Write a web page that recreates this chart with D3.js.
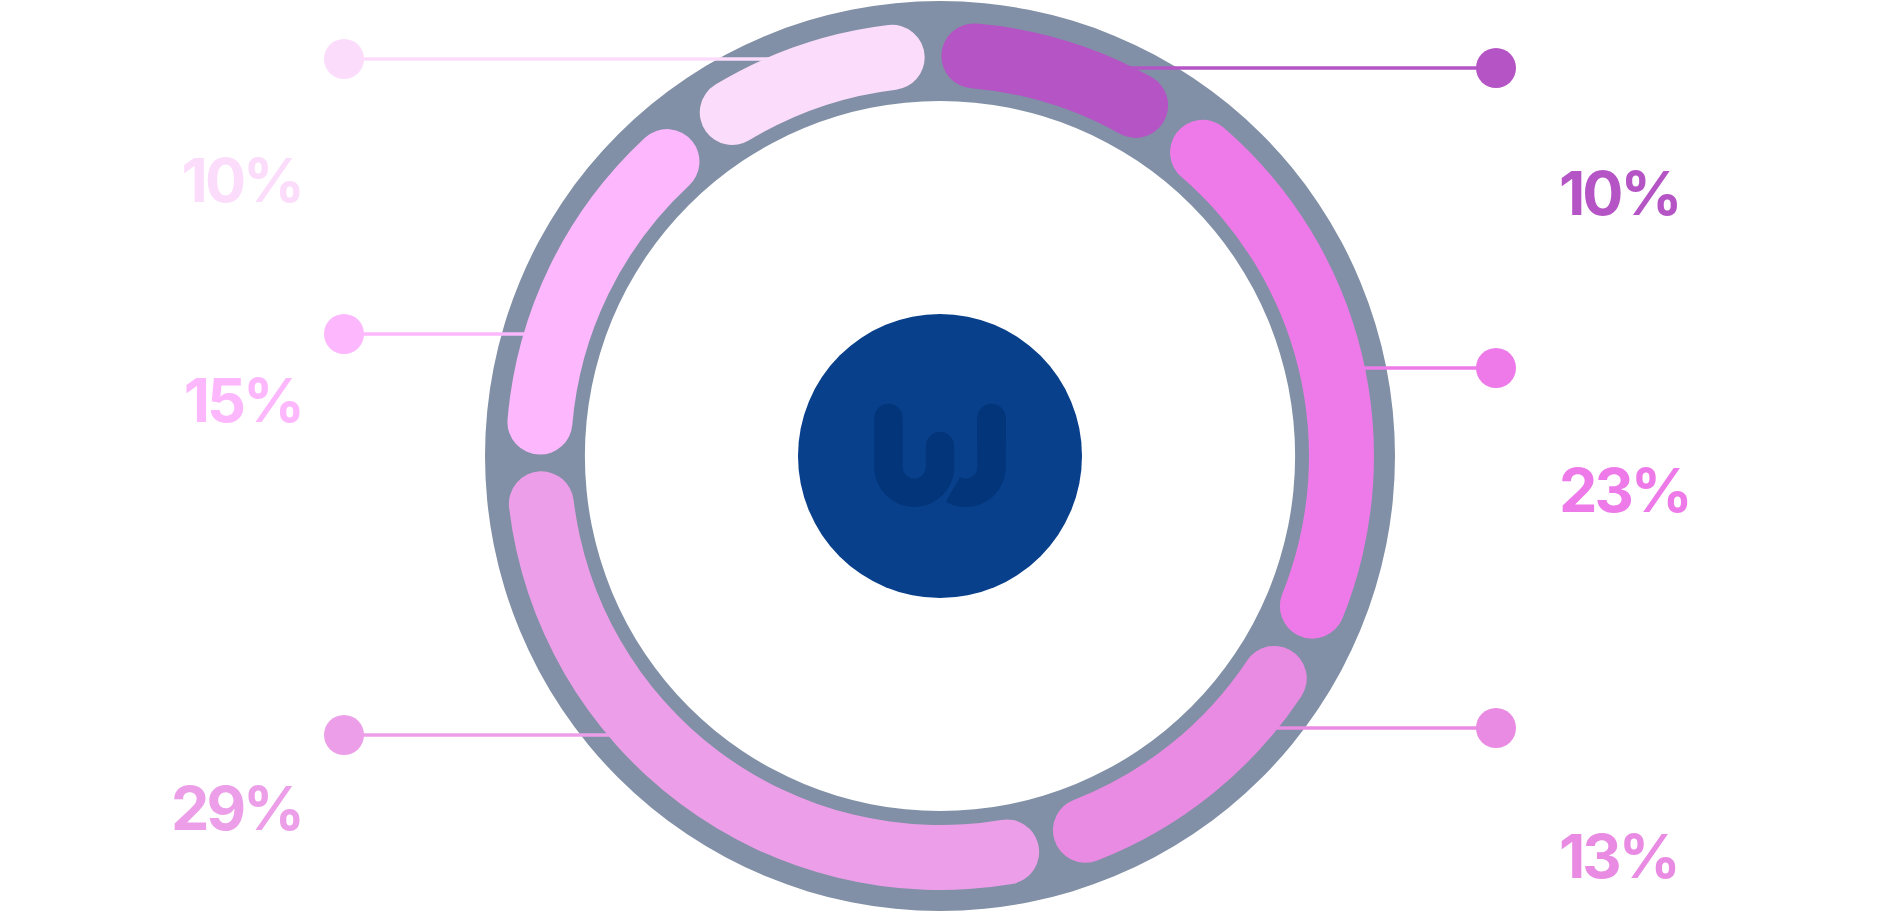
<!DOCTYPE html>
<html><head><meta charset="utf-8">
<script src="https://cdn.jsdelivr.net/npm/d3@7/dist/d3.min.js"></script>
<style>html,body{margin:0;padding:0;background:#fff;overflow:hidden}</style>
</head><body><svg id="chart" width="1880" height="912"></svg>
<script>
// ---- data ----
const slices = ["s1", "s2", "s3", "s4", "s5", "s6"];
const values = [10, 23, 13, 29, 15, 10];
const labels = ["10%", "23%", "13%", "29%", "15%", "10%"];
const colors = ["#b554c4", "#ee7ae9", "#e98ae3", "#ec9fe8", "#fdb7fd", "#fcdcfb"];

// ---- layout ----
const W = 1880, H = 912;
const cx = 940, cy = 456;
const sides = ["right", "right", "right", "left", "left", "left"];
const leaderY = [68, 368, 728, 735, 334, 59];
const labelBaseline = [215, 512, 878, 830, 422, 202];
const dotX = { left: 344, right: 1496 };
const labelX = { left: 302, right: 1559 };
const startDeg = -1.0, padDeg = 1.2;
const ringOuter = 455, ringInner = 355;
const bandInner = 369, bandOuter = 434, bandMid = (bandInner + bandOuter) / 2;

const rad = d => d * Math.PI / 180;
const svg = d3.select("#chart");
const g = svg.append("g").attr("transform", `translate(${cx},${cy})`);

// grey ring
g.append("path")
  .attr("d", d3.arc().innerRadius(ringInner).outerRadius(ringOuter)({ startAngle: 0, endAngle: 2 * Math.PI }))
  .attr("fill", "#8190a6");

const pie = d3.pie().sort(null).value(d => d)
  .startAngle(rad(startDeg)).endAngle(rad(startDeg) + 2 * Math.PI);
const arcs = pie(values);

// leader lines (under arcs)
const leaders = svg.append("g");
arcs.forEach((a, i) => {
  const side = sides[i];
  const y = leaderY[i];
  const dy = y - cy;
  const dx = Math.sqrt(Math.max(0, bandMid * bandMid - dy * dy));
  const xEnd = side === "left" ? cx - dx : cx + dx;
  leaders.append("line")
    .attr("x1", dotX[side]).attr("x2", xEnd)
    .attr("y1", y).attr("y2", y)
    .attr("stroke", colors[i]).attr("stroke-width", 3.5);
  leaders.append("circle")
    .attr("cx", dotX[side]).attr("cy", y).attr("r", 20)
    .attr("fill", colors[i]);
  svg.append("text")
    .attr("x", labelX[side]).attr("y", labelBaseline[i])
    .attr("text-anchor", side === "left" ? "end" : "start")
    .attr("font-family", "Inter, 'Noto Sans', sans-serif")
    .attr("font-weight", 700)
    .attr("font-size", 61)
    .attr("letter-spacing", -3)
    .attr("fill", colors[i])
    .text(labels[i]);
});

// arcs
const arcGen = d3.arc().innerRadius(bandInner).outerRadius(bandOuter)
  .cornerRadius((bandOuter - bandInner) / 2);
g.selectAll("path.slice").data(arcs).join("path")
  .attr("class", "slice")
  .attr("d", d => arcGen({ startAngle: d.startAngle + rad(padDeg), endAngle: d.endAngle - rad(padDeg) }))
  .attr("fill", (d, i) => colors[i]);

// center disc + logo
g.append("circle").attr("r", 142).attr("fill", "#09408b");
const logo = svg.append("g").attr("fill", "none").attr("stroke-linecap", "round");
const sw = 28.5, r = 25.75;
// J part
logo.append("path")
  .attr("d", `M991.5,418 L991.5,467 A${r},${r} 0 0 1 ${965.75 + r * Math.cos(rad(120))},${467 + r * Math.sin(rad(120))}`)
  .attr("stroke", "#03357a").attr("stroke-width", sw).attr("stroke-linecap", "butt");
logo.append("path").attr("d", "M991.5,418 L991.5,440").attr("stroke", "#03357a").attr("stroke-width", sw);
// U part with separating outline
const uPath = `M888.5,418 L888.5,467 A${r},${r} 0 0 0 940,467 L940,446`;
logo.append("path").attr("d", uPath).attr("stroke", "#09408b").attr("stroke-width", sw + 8);
logo.append("path").attr("d", uPath).attr("stroke", "#03357a").attr("stroke-width", sw);
</script></body></html>
